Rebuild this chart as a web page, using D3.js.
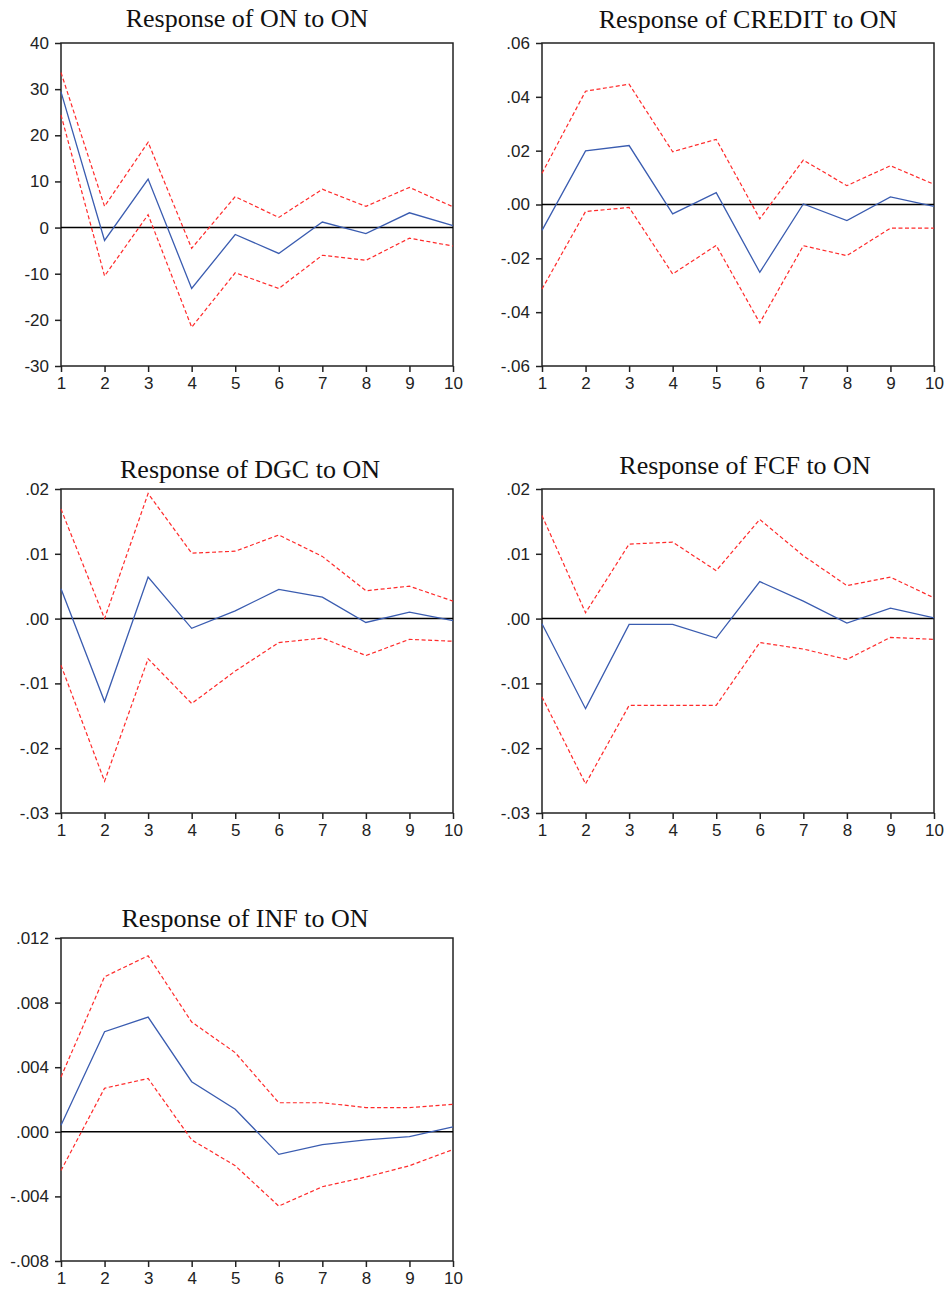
<!DOCTYPE html>
<html>
<head>
<meta charset="utf-8">
<script src="https://cdn.jsdelivr.net/npm/d3@7"></script>
<style>
  html, body { margin: 0; padding: 0; background: #fff; }
  svg { display: block; }
</style>
</head>
<body>
<svg id="chart" width="949" height="1292"></svg>
<script>
// ---------------- DATA ----------------
const steps = [1, 2, 3, 4, 5, 6, 7, 8, 9, 10];
const xTickLabels = ["1", "2", "3", "4", "5", "6", "7", "8", "9", "10"];

const titles = ["Response of ON to ON", "Response of CREDIT to ON", "Response of DGC to ON",
                "Response of FCF to ON", "Response of INF to ON"];

// Response of ON to ON
const onResp  = [29.4, -2.8, 10.5, -13.2, -1.5, -5.6, 1.2, -1.3, 3.2, 0.4];
const onUpper = [33.6, 4.6, 18.5, -4.5, 6.7, 2.2, 8.3, 4.6, 8.7, 4.5];
const onLower = [24.4, -10.5, 2.8, -21.6, -9.8, -13.2, -6.0, -7.1, -2.3, -4.0];
const onTicks = [40, 30, 20, 10, 0, -10, -20, -30];
const onTickLabels = ["40", "30", "20", "10", "0", "-10", "-20", "-30"];

// Response of CREDIT to ON
const creditResp  = [-0.0096, 0.0199, 0.0219, -0.0035, 0.0044, -0.0252, 0.0002, -0.0060, 0.0028, -0.0007];
const creditUpper = [0.0116, 0.0421, 0.0447, 0.0196, 0.0242, -0.0053, 0.0165, 0.0070, 0.0144, 0.0075];
const creditLower = [-0.0314, -0.0026, -0.0011, -0.0258, -0.0152, -0.0440, -0.0153, -0.0190, -0.0088, -0.0088];
const creditTicks = [0.06, 0.04, 0.02, 0, -0.02, -0.04, -0.06];
const creditTickLabels = [".06", ".04", ".02", ".00", "-.02", "-.04", "-.06"];

// Response of DGC to ON
const dgcResp  = [0.0046, -0.0128, 0.0064, -0.0015, 0.0012, 0.0045, 0.0033, -0.0006, 0.0010, -0.0003];
const dgcUpper = [0.0169, 0.0000, 0.0193, 0.0101, 0.0104, 0.0129, 0.0096, 0.0043, 0.0050, 0.0027];
const dgcLower = [-0.0072, -0.0251, -0.0062, -0.0131, -0.0081, -0.0037, -0.0030, -0.0057, -0.0032, -0.0035];
const dgcTicks = [0.02, 0.01, 0, -0.01, -0.02, -0.03];
const dgcTickLabels = [".02", ".01", ".00", "-.01", "-.02", "-.03"];

// Response of FCF to ON
const fcfResp  = [-0.0008, -0.0139, -0.0009, -0.0009, -0.0030, 0.0057, 0.0027, -0.0007, 0.0016, 0.0001];
const fcfUpper = [0.0159, 0.0009, 0.0115, 0.0118, 0.0074, 0.0153, 0.0097, 0.0051, 0.0064, 0.0032];
const fcfLower = [-0.0121, -0.0255, -0.0134, -0.0134, -0.0134, -0.0037, -0.0047, -0.0063, -0.0029, -0.0032];
const fcfTicks = [0.02, 0.01, 0, -0.01, -0.02, -0.03];
const fcfTickLabels = [".02", ".01", ".00", "-.01", "-.02", "-.03"];

// Response of INF to ON
const infResp  = [0.0004, 0.0062, 0.0071, 0.0031, 0.0014, -0.0014, -0.0008, -0.0005, -0.0003, 0.0003];
const infUpper = [0.0034, 0.0096, 0.0109, 0.0068, 0.0049, 0.0018, 0.0018, 0.0015, 0.0015, 0.0017];
const infLower = [-0.0024, 0.0027, 0.0033, -0.0005, -0.0021, -0.0046, -0.0034, -0.0028, -0.0021, -0.0011];
const infTicks = [0.012, 0.008, 0.004, 0, -0.004, -0.008];
const infTickLabels = [".012", ".008", ".004", ".000", "-.004", "-.008"];

// ---------------- LAYOUT ----------------
const panels = [
  { title: titles[0], resp: onResp, upper: onUpper, lower: onLower, ticks: onTicks, tickLabels: onTickLabels,
    x0: 61, x1: 453, y0: 43, y1: 366, titleX: 247, titleY: 27 },
  { title: titles[1], resp: creditResp, upper: creditUpper, lower: creditLower, ticks: creditTicks, tickLabels: creditTickLabels,
    x0: 542, x1: 934, y0: 43, y1: 366, titleX: 748, titleY: 28 },
  { title: titles[2], resp: dgcResp, upper: dgcUpper, lower: dgcLower, ticks: dgcTicks, tickLabels: dgcTickLabels,
    x0: 61, x1: 453, y0: 489, y1: 813, titleX: 250, titleY: 478 },
  { title: titles[3], resp: fcfResp, upper: fcfUpper, lower: fcfLower, ticks: fcfTicks, tickLabels: fcfTickLabels,
    x0: 542, x1: 934, y0: 489, y1: 813, titleX: 745, titleY: 474 },
  { title: titles[4], resp: infResp, upper: infUpper, lower: infLower, ticks: infTicks, tickLabels: infTickLabels,
    x0: 61, x1: 453, y0: 938, y1: 1261, titleX: 245, titleY: 927 }
];

const svg = d3.select("#chart");

panels.forEach(p => {
  const g = svg.append("g");
  const x = d3.scaleLinear().domain([1, 10]).range([p.x0, p.x1]);
  const y = d3.scaleLinear().domain([d3.min(p.ticks), d3.max(p.ticks)]).range([p.y1, p.y0]);

  // title
  g.append("text")
    .attr("x", p.titleX).attr("y", p.titleY)
    .attr("text-anchor", "middle")
    .attr("font-family", "'Liberation Serif', 'Times New Roman', serif")
    .attr("font-size", 26)
    .attr("fill", "#111")
    .text(p.title);

  // y axis
  const yAxis = d3.axisLeft(y).tickValues(p.ticks)
    .tickFormat((d, i) => p.tickLabels[i]).tickSize(6).tickPadding(6);
  const ya = g.append("g").attr("transform", `translate(${p.x0},0)`).call(yAxis);
  ya.select(".domain").remove();
  ya.selectAll(".tick line").attr("stroke", "#222").attr("stroke-width", 1.5);
  ya.selectAll(".tick text")
    .attr("font-family", "'Liberation Sans', Arial, sans-serif")
    .attr("font-size", 17).attr("fill", "#222");

  // x axis
  const xAxis = d3.axisBottom(x).tickValues(steps)
    .tickFormat((d, i) => xTickLabels[i]).tickSize(6).tickPadding(5);
  const xa = g.append("g").attr("transform", `translate(0,${p.y1})`).call(xAxis);
  xa.select(".domain").remove();
  xa.selectAll(".tick line").attr("stroke", "#222").attr("stroke-width", 1.5);
  xa.selectAll(".tick text")
    .attr("font-family", "'Liberation Sans', Arial, sans-serif")
    .attr("font-size", 17).attr("fill", "#222");

  // frame
  g.append("rect")
    .attr("x", p.x0).attr("y", p.y0)
    .attr("width", p.x1 - p.x0).attr("height", p.y1 - p.y0)
    .attr("fill", "none").attr("stroke", "#222").attr("stroke-width", 1.5);

  // zero line
  g.append("line")
    .attr("x1", p.x0).attr("x2", p.x1)
    .attr("y1", y(0)).attr("y2", y(0))
    .attr("stroke", "#000").attr("stroke-width", 1.5);

  const line = d3.line().x((d, i) => x(steps[i])).y(d => y(d));

  [p.upper, p.lower].forEach(band => {
    g.append("path").datum(band)
      .attr("d", line)
      .attr("fill", "none")
      .attr("stroke", "#ff2a2a")
      .attr("stroke-width", 1.2)
      .attr("stroke-dasharray", "4,2.5");
  });

  g.append("path").datum(p.resp)
    .attr("d", line)
    .attr("fill", "none")
    .attr("stroke", "#3a5cb0")
    .attr("stroke-width", 1.3);
});
</script>
</body>
</html>
